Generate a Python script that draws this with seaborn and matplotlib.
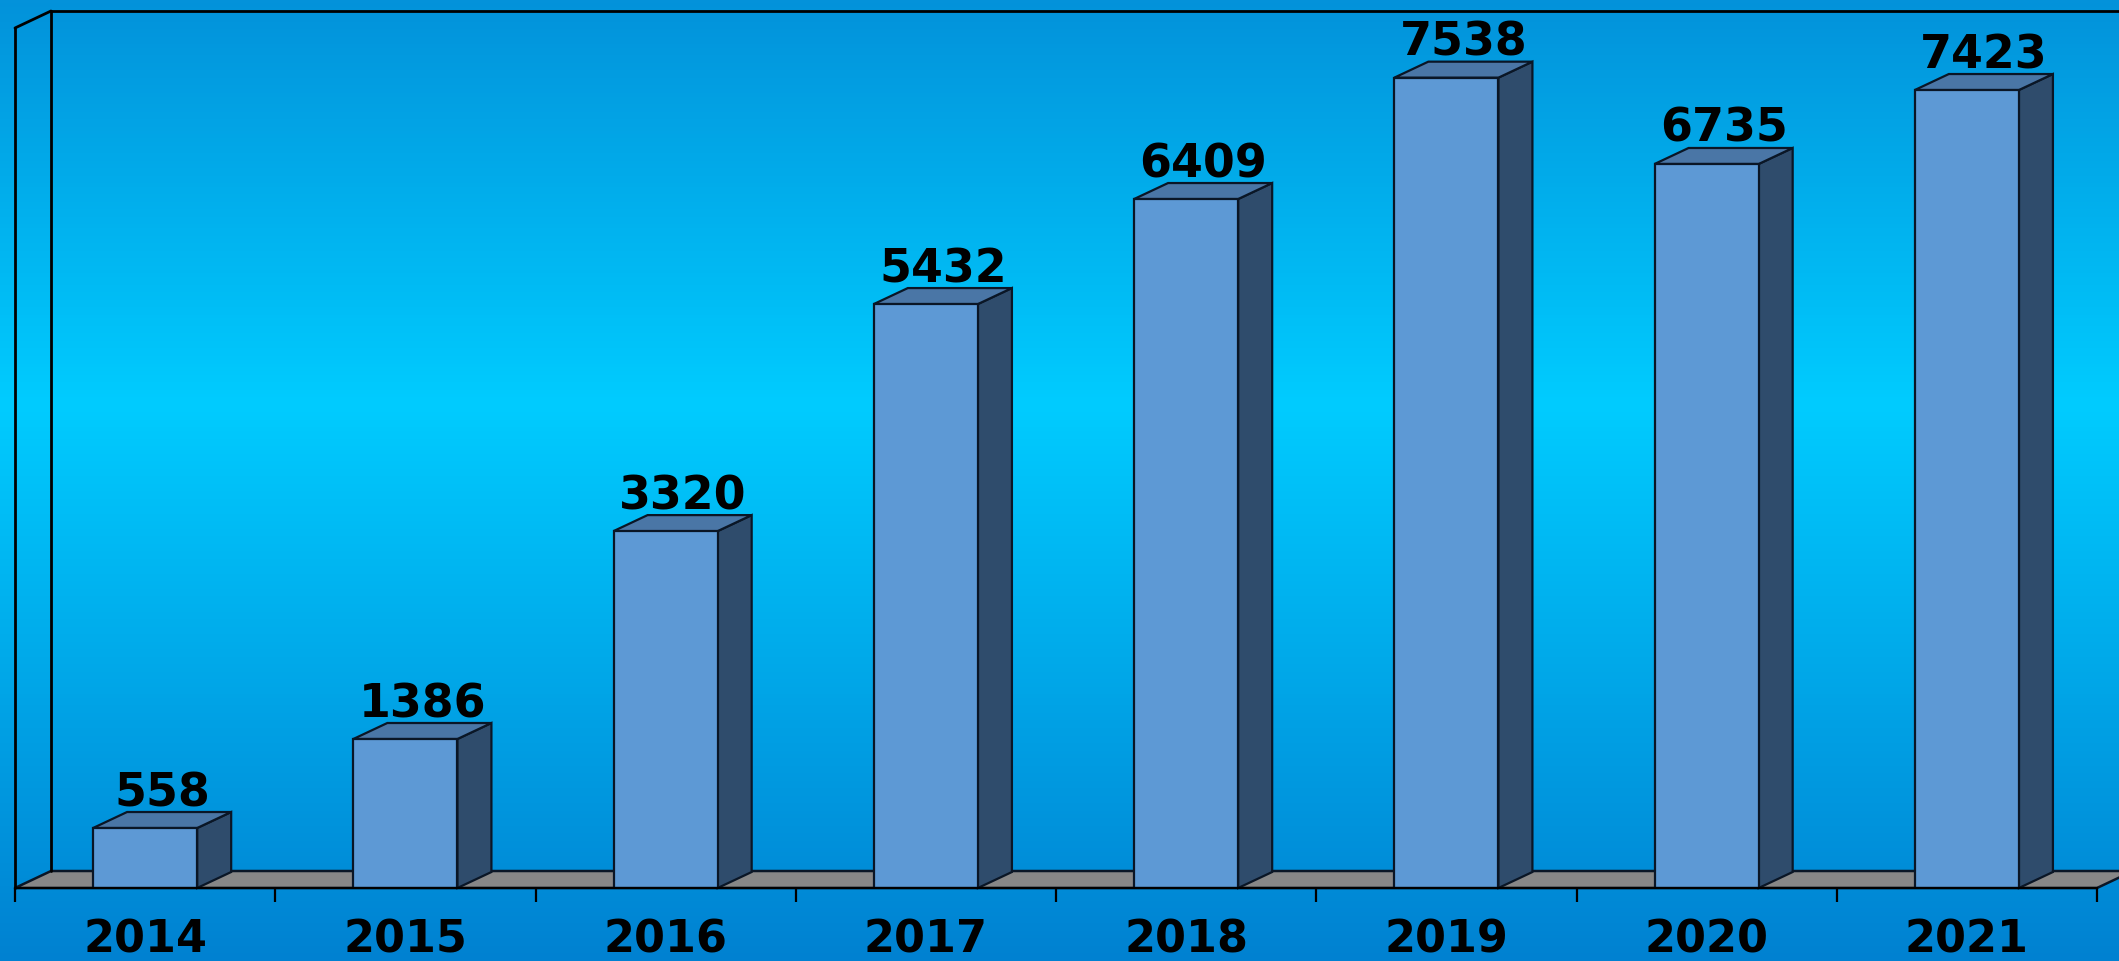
# 3D-style bar chart of yearly totals, 2014-2021
import numpy as np
import pandas as pd
import matplotlib
matplotlib.use("Agg")
import matplotlib.pyplot as plt
import seaborn as sns
from matplotlib.patches import Polygon
from matplotlib.colors import LinearSegmentedColormap
from matplotlib.transforms import IdentityTransform, ScaledTranslation

# data
years = ["2014", "2015", "2016", "2017", "2018", "2019", "2020", "2021"]
values = [558, 1386, 3320, 5432, 6409, 7538, 6735, 7423]
y_max = 8000

# colours
FRONT = "#5d99d5"
SIDE = "#2f4c6c"
TOP = "#4a76a6"
EDGE = "#0a1626"
FLOOR = "#878787"

W, H, DPI = 2119, 962, 100
BAR_DX, BAR_DY = 34, 16      # bar depth in pixels
WALL_DX, WALL_DY = 36, 17    # floor / wall depth in pixels

sns.set_style("white")
plt.rcParams["font.family"] = ["DejaVu Sans"]

fig = plt.figure(figsize=(W / DPI, H / DPI), dpi=DPI)

# background gradient
bg = fig.add_axes([0, 0, 1, 1], zorder=0)
grad = LinearSegmentedColormap.from_list(
    "bg", [(0, "#0392da"), (0.42, "#00ccff"), (1, "#0081d1")])
bg.imshow(np.linspace(0, 1, 256).reshape(-1, 1), aspect="auto", cmap=grad,
          extent=[0, 1, 0, 1])
bg.axis("off")

ax = fig.add_axes([15 / W, (H - 889) / H, 2082 / W, 860 / H], zorder=1)
ax.patch.set_alpha(0)

df = pd.DataFrame({"year": years, "value": values})
sns.barplot(data=df, x="year", y="value", width=0.4, color=FRONT,
            saturation=1, edgecolor=EDGE, linewidth=1.6, errorbar=None,
            ax=ax, zorder=4)
ax.set_xlim(-0.5, len(years) - 0.5)
ax.set_ylim(0, y_max)
ax.autoscale(False)


def px(x, y):
    return ax.transData.transform((x, y))


def face(pts, color, z, lw=1.6):
    poly = Polygon(pts, closed=True, facecolor=color, edgecolor=EDGE,
                   linewidth=lw, transform=IdentityTransform(), zorder=z,
                   clip_on=False)
    ax.add_patch(poly)


def line(p0, p1):
    ax.plot([p0[0], p1[0]], [p0[1], p1[1]], color="black", lw=2,
            transform=IdentityTransform(), clip_on=False, zorder=2)


wd = np.array([WALL_DX, WALL_DY])
x0, x1 = -0.5, len(years) - 0.5

# floor
fl, fr = px(x0, 0), px(x1, 0)
face([fl, fr, fr + wd, fl + wd], FLOOR, 1.5, lw=1.8)

# left and back wall edges
tl = px(x0, y_max)
tr = px(x1, y_max)
line(fl, tl)
line(tl, tl + wd)
line(fl + wd, tl + wd)
line(tl + wd, tr + wd)
line(fr + wd, tr + wd)

# bar sides and tops
bd = np.array([BAR_DX, BAR_DY])
for bar in ax.patches[:len(years)]:
    bx, bw, bh = bar.get_x(), bar.get_width(), bar.get_height()
    br = px(bx + bw, 0)
    tlb, trb = px(bx, bh), px(bx + bw, bh)
    face([br, trb, trb + bd, br + bd], SIDE, 3)
    face([tlb, trb, trb + bd, tlb + bd], TOP, 3)

# value labels
lab_tr = ax.transData + ScaledTranslation(BAR_DX / 2 / DPI, (BAR_DY + 7) / DPI,
                                          fig.dpi_scale_trans)
for i, v in enumerate(values):
    ax.text(i, v, str(v), transform=lab_tr, ha="center", va="baseline",
            fontsize=33, fontweight="bold", color="black", zorder=6,
            clip_on=False)

# axis styling
for s in ["top", "right", "left"]:
    ax.spines[s].set_visible(False)
ax.spines["bottom"].set_color("black")
ax.spines["bottom"].set_linewidth(1.6)
ax.spines["bottom"].set_zorder(5)
ax.set_yticks([])
ax.set_xlabel("")
ax.set_ylabel("")
ax.set_xticks(np.arange(-0.5, len(years)), minor=True)
ax.tick_params(axis="x", which="minor", bottom=True, length=10, width=1.6,
               direction="out", color="black")
ax.tick_params(axis="x", which="major", length=0, pad=21)
for t in ax.get_xticklabels():
    t.set_fontsize(32)
    t.set_fontweight("bold")
    t.set_color("black")

fig.savefig("out.png", dpi=DPI)
